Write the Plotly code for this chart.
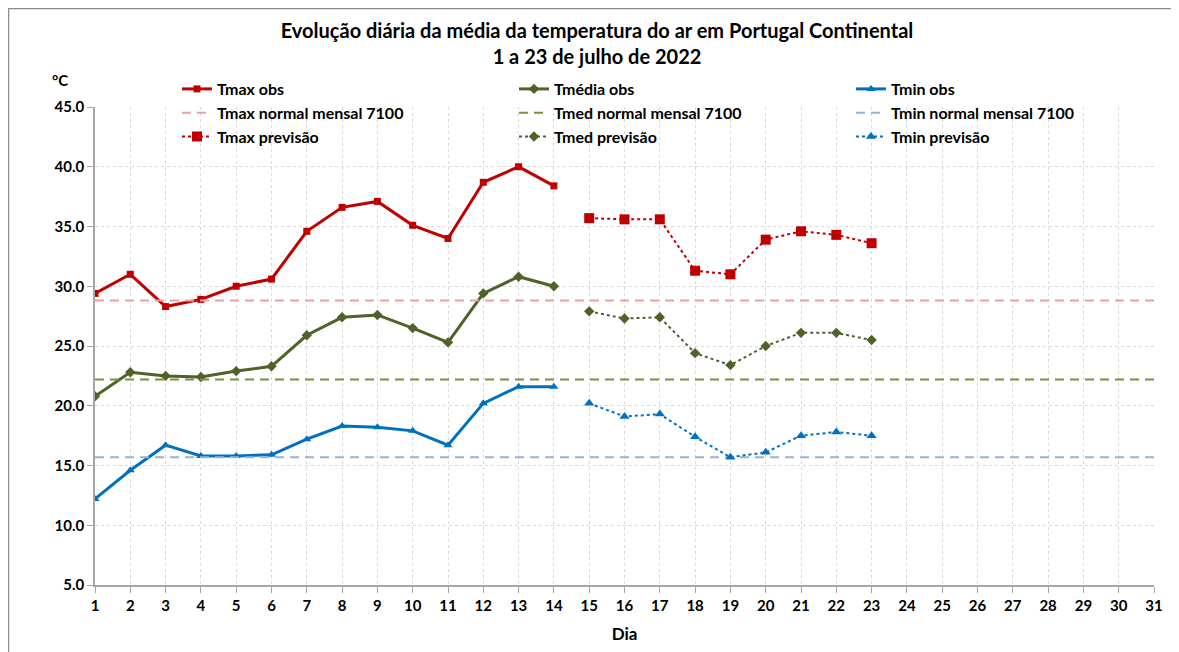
import plotly.graph_objects as go

days_obs = list(range(1, 15))
days_prev = list(range(15, 24))
days_axis = list(range(1, 32))

tmax_obs = [29.4, 31.0, 28.3, 28.9, 30.0, 30.6, 34.6, 36.6, 37.1, 35.1, 34.0, 38.7, 40.0, 38.4]
tmed_obs = [20.8, 22.8, 22.5, 22.4, 22.9, 23.3, 25.9, 27.4, 27.6, 26.5, 25.3, 29.4, 30.8, 30.0]
tmin_obs = [12.2, 14.6, 16.7, 15.8, 15.8, 15.9, 17.2, 18.3, 18.2, 17.9, 16.7, 20.2, 21.6, 21.6]

tmax_prev = [35.7, 35.6, 35.6, 31.3, 31.0, 33.9, 34.6, 34.3, 33.6]
tmed_prev = [27.9, 27.3, 27.4, 24.4, 23.4, 25.0, 26.1, 26.1, 25.5]
tmin_prev = [20.2, 19.1, 19.3, 17.4, 15.7, 16.1, 17.5, 17.8, 17.5]

tmax_normal = 28.8
tmed_normal = 22.2
tmin_normal = 15.7

y_ticks = [5.0, 10.0, 15.0, 20.0, 25.0, 30.0, 35.0, 40.0, 45.0]

RED = "#C00000"
OLIVE = "#4F6228"
BLUE = "#0070C0"
RED_N = "#E6A3A3"
OLIVE_N = "#77933C"
BLUE_N = "#95B3D7"

FONT = "Lato"

# figure geometry (page has an 8px body offset)
W, H = 1171, 644
ML, MR, MT, MB = 87, 25, 99, 67
PW = W - ML - MR
PH = H - MT - MB

fig = go.Figure()
span = [days_axis[0], days_axis[-1]]

fig.add_trace(go.Scatter(x=days_obs, y=tmax_obs, name="<b>Tmax obs</b>", mode="lines+markers",
                         line=dict(color=RED, width=3), marker=dict(symbol="square", size=7, color=RED)))
fig.add_trace(go.Scatter(x=days_obs, y=tmed_obs, name="<b>Tmédia obs</b>", mode="lines+markers",
                         line=dict(color=OLIVE, width=3), marker=dict(symbol="diamond", size=8, color=OLIVE)))
fig.add_trace(go.Scatter(x=days_obs, y=tmin_obs, name="<b>Tmin obs</b>", mode="lines+markers",
                         line=dict(color=BLUE, width=3), marker=dict(symbol="triangle-up", size=8, color=BLUE)))

fig.add_trace(go.Scatter(x=span, y=[tmax_normal] * 2, name="<b>Tmax normal mensal 7100</b>", mode="lines",
                         line=dict(color=RED_N, width=2, dash="9px,6px")))
fig.add_trace(go.Scatter(x=span, y=[tmed_normal] * 2, name="<b>Tmed normal mensal 7100</b>", mode="lines",
                         line=dict(color=OLIVE_N, width=2, dash="9px,6px")))
fig.add_trace(go.Scatter(x=span, y=[tmin_normal] * 2, name="<b>Tmin normal mensal 7100</b>", mode="lines",
                         line=dict(color=BLUE_N, width=2, dash="9px,6px")))

fig.add_trace(go.Scatter(x=days_prev, y=tmax_prev, name="<b>Tmax previsão</b>", mode="lines+markers",
                         line=dict(color=RED, width=2, dash="dot"), marker=dict(symbol="square", size=10, color=RED)))
fig.add_trace(go.Scatter(x=days_prev, y=tmed_prev, name="<b>Tmed previsão</b>", mode="lines+markers",
                         line=dict(color=OLIVE, width=2, dash="dot"), marker=dict(symbol="diamond", size=8, color=OLIVE)))
fig.add_trace(go.Scatter(x=days_prev, y=tmin_prev, name="<b>Tmin previsão</b>", mode="lines+markers",
                         line=dict(color=BLUE, width=2, dash="dot"), marker=dict(symbol="triangle-up", size=9, color=BLUE)))

fig.update_layout(
    width=W, height=H,
    margin=dict(l=ML, r=MR, t=MT, b=MB, autoexpand=False),
    paper_bgcolor="white", plot_bgcolor="white",
    font=dict(family=FONT, size=15, color="black"),
    title=dict(text="<b>Evolução diária da média da temperatura do ar em Portugal Continental<br>1 a 23 de julho de 2022</b>",
               x=589 / W, xanchor="center", y=1 - 30 / H, yanchor="top", yref="container",
               font=dict(family=FONT, size=20, color="black")),
    showlegend=True,
    legend=dict(orientation="h", x=(169 - ML) / PW, xanchor="left", y=1 + (MT - 64) / PH, yanchor="top",
                entrywidth=292, entrywidthmode="pixels", bgcolor="rgba(0,0,0,0)", tracegroupgap=0,
                font=dict(family=FONT, size=16, color="black"), itemwidth=30),
    xaxis=dict(range=[1, 31], tickvals=days_axis, ticktext=[f"<b>{d}</b>" for d in days_axis],
               showgrid=True, gridcolor="#D9D9D9", griddash="dot", gridwidth=1,
               showline=True, linecolor="#A6A6A6", linewidth=1.5, ticks="outside", tickcolor="#A6A6A6",
               ticklen=6, tickfont=dict(size=15), zeroline=False,
               title=dict(text="<b>Dia</b>", font=dict(size=17), standoff=15)),
    yaxis=dict(range=[5, 45], tickvals=y_ticks, ticktext=[f"<b>{v:.1f}</b>" for v in y_ticks],
               showgrid=True, gridcolor="#D9D9D9", griddash="dot", gridwidth=1,
               showline=True, linecolor="#A6A6A6", linewidth=1.5, ticks="outside", tickcolor="#A6A6A6",
               ticklen=6, tickfont=dict(size=15), zeroline=False),
)

fig.add_annotation(text="<b>°C</b>", xref="paper", yref="paper", x=(52 - ML) / PW, y=1 + (MT - 72) / PH,
                   xanchor="center", yanchor="middle",
                   showarrow=False, font=dict(size=15, family=FONT, color="black"))

fig.add_shape(type="rect", xref="paper", yref="paper",
              x0=(0.5 - ML) / PW, x1=(W + 20 - ML) / PW, y0=-(MB + 20) / PH, y1=1 + (MT - 0.5) / PH,
              line=dict(color="#8C8C8C", width=1.5), fillcolor="rgba(0,0,0,0)", layer="below")

fig.write_html("out.html")
